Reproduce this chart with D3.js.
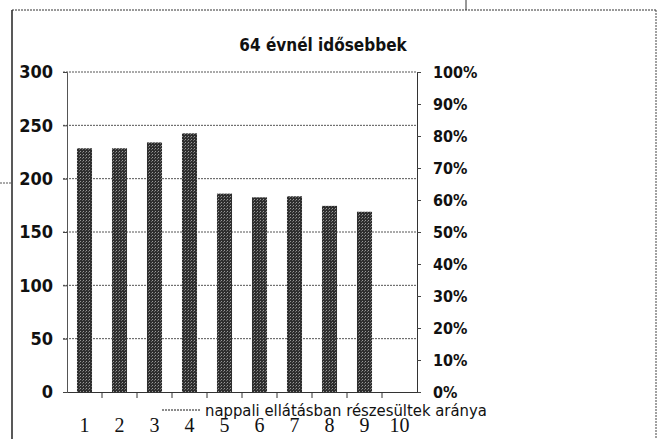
<!DOCTYPE html>
<html>
<head>
<meta charset="utf-8">
<script src="https://cdn.jsdelivr.net/npm/d3@7"></script>
<style>
  body { margin: 0; background: #fff; }
  svg { display: block; }
  .lbl { font-family: "DejaVu Sans Condensed", "Liberation Sans Narrow", sans-serif; font-stretch: condensed; font-weight: bold; fill: #111; }
</style>
</head>
<body>
<svg id="chart" width="660" height="439"></svg>
<script>
// chart data
const categories = ['1', '2', '3', '4', '5', '6', '7', '8', '9', '10'];
const counts = [228.5, 228.5, 234, 242.5, 186, 182.5, 183.5, 174.5, 169, 0];
const leftTicks = [0, 50, 100, 150, 200, 250, 300];
const rightTicks = [0, 0.1, 0.2, 0.3, 0.4, 0.5, 0.6, 0.7, 0.8, 0.9, 1];
const title = '64 évnél idősebbek';
const legendLabel = 'nappali ellátásban részesültek aránya';

const svg = d3.select('#chart');
const margin = { top: 72, left: 67, right: 243, bottom: 47 };
const width = 660 - margin.left - margin.right;
const height = 439 - margin.top - margin.bottom;

// halftone-ish texture for the bars
const defs = svg.append('defs');
const pat = defs.append('pattern')
  .attr('id', 'dots')
  .attr('width', 3).attr('height', 3)
  .attr('patternUnits', 'userSpaceOnUse');
pat.append('rect').attr('width', 3).attr('height', 3).attr('fill', '#2e2e2e');
pat.append('rect').attr('x', 1).attr('y', 1).attr('width', 1).attr('height', 1).attr('fill', '#999');
pat.append('rect').attr('x', 0).attr('y', 2).attr('width', 1).attr('height', 1).attr('fill', '#6a6a6a');

// outer frame + scan artefacts
svg.append('line').attr('x1', 12).attr('x2', 12).attr('y1', 10).attr('y2', 439)
  .attr('stroke', '#222').attr('stroke-width', 1.5);
svg.append('line').attr('x1', 12).attr('x2', 656).attr('y1', 10).attr('y2', 10)
  .attr('stroke', '#333').attr('stroke-dasharray', '2,1');
svg.append('line').attr('x1', 656).attr('x2', 656).attr('y1', 10).attr('y2', 439)
  .attr('stroke', '#444').attr('stroke-dasharray', '2,1');
svg.append('line').attr('x1', 466).attr('x2', 466).attr('y1', 0).attr('y2', 10)
  .attr('stroke', '#333');
svg.append('line').attr('x1', 0).attr('x2', 12).attr('y1', 183).attr('y2', 183)
  .attr('stroke', '#555').attr('stroke-dasharray', '2,1');

const g = svg.append('g')
  .attr('transform', 'translate(' + margin.left + ',' + margin.top + ')');

const x = d3.scaleBand().domain(categories).range([0, width]).padding(0);
const y = d3.scaleLinear().domain([0, 300]).range([height, 0]);
const y2 = d3.scaleLinear().domain([0, 1]).range([height, 0]);

// gridlines
g.selectAll('.grid')
  .data(leftTicks.filter(d => d > 0))
  .enter().append('line')
  .attr('x1', -4).attr('x2', width)
  .attr('y1', d => y(d)).attr('y2', d => y(d))
  .attr('stroke', '#555')
  .attr('stroke-dasharray', '2,1');

// bars
const barW = x.bandwidth() * 0.43;
g.selectAll('.bar')
  .data(counts)
  .enter().append('rect')
  .attr('x', (d, i) => x(categories[i]) + (x.bandwidth() - barW) / 2)
  .attr('width', barW)
  .attr('y', d => y(d))
  .attr('height', d => height - y(d))
  .attr('fill', 'url(#dots)');

// left axis
const yAxis = g.append('g')
  .call(d3.axisLeft(y).tickValues(leftTicks).tickSize(4).tickPadding(10));
yAxis.select('.domain').attr('stroke', '#555');
yAxis.selectAll('.tick line').attr('stroke', '#444');
yAxis.selectAll('text').attr('class', 'lbl').style('font-size', '18px');

// right axis
const y2Axis = g.append('g')
  .attr('transform', 'translate(' + width + ',0)')
  .call(d3.axisRight(y2).tickValues(rightTicks).tickFormat(d3.format('.0%')).tickSize(4).tickPadding(12));
y2Axis.select('.domain').attr('stroke', '#333');
y2Axis.selectAll('.tick line').attr('stroke', '#444');
y2Axis.selectAll('text').attr('class', 'lbl').style('font-size', '16px');

// x axis
const xAxis = g.append('g')
  .attr('transform', 'translate(0,' + height + ')')
  .call(d3.axisBottom(x).tickSize(0).tickPadding(26));
xAxis.select('.domain').attr('stroke', '#333').attr('stroke-width', 1.2);
xAxis.selectAll('text')
  .style('font-family', '"Liberation Serif", "DejaVu Serif", serif')
  .style('font-size', '20px')
  .attr('fill', '#111');
g.append('g').selectAll('line')
  .data(categories.slice(1))
  .enter().append('line')
  .attr('x1', d => x(d)).attr('x2', d => x(d))
  .attr('y1', height).attr('y2', height + 6)
  .attr('stroke', '#333');

// title
svg.append('text')
  .attr('class', 'lbl')
  .attr('x', 323).attr('y', 51)
  .attr('text-anchor', 'middle')
  .style('font-size', '17px')
  .text(title);

// legend
svg.append('line')
  .attr('x1', 162).attr('x2', 200).attr('y1', 410).attr('y2', 410)
  .attr('stroke', '#666').attr('stroke-width', 1.5).attr('stroke-dasharray', '2,1');
svg.append('text')
  .attr('class', 'lbl')
  .attr('x', 205).attr('y', 416)
  .style('font-size', '16.5px')
  .style('font-weight', 'normal')
  .text(legendLabel);
</script>
</body>
</html>
